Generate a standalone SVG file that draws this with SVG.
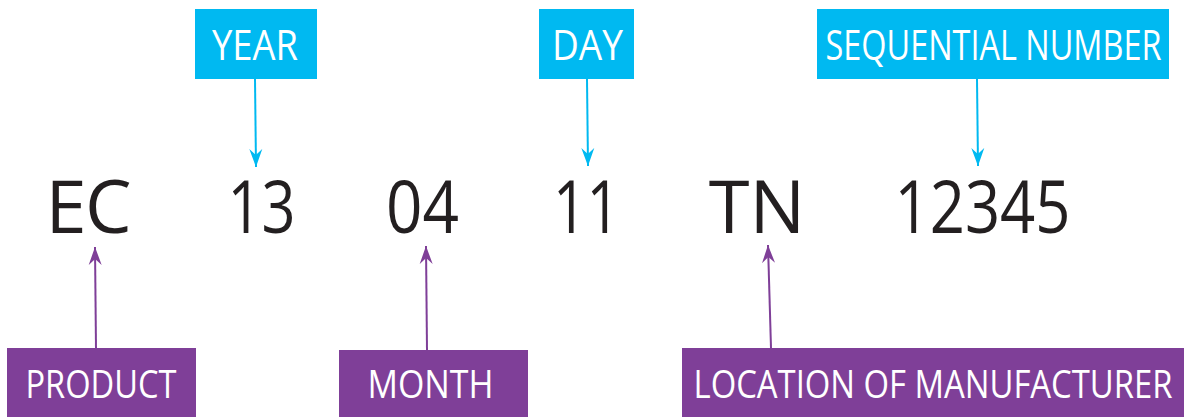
<svg xmlns="http://www.w3.org/2000/svg" width="1184" height="417" viewBox="0 0 1184 417">
<style>
.bbox{fill:#00B9F1}
.pbox{fill:#7F3F98}
.lbl{font-family:"Open Sans","Liberation Sans",sans-serif;fill:#fff;text-anchor:middle}
.big{font-family:"Open Sans","Liberation Sans",sans-serif;font-size:74px;fill:#231F20;text-anchor:middle}
.bl{stroke:#00B9F1;stroke-width:2;fill:none}
.pl{stroke:#7F3F98;stroke-width:2;fill:none}
</style>
<defs>
<marker id="ab" markerUnits="userSpaceOnUse" markerWidth="20" markerHeight="16" viewBox="-18 -8 20 16" refX="0" refY="0" orient="auto">
<path d="M0,0 L-18,-6.5 L-12,0 L-18,6.5 Z" fill="#00B9F1"/>
</marker>
<marker id="ap" markerUnits="userSpaceOnUse" markerWidth="20" markerHeight="16" viewBox="-18 -8 20 16" refX="0" refY="0" orient="auto">
<path d="M0,0 L-18,-6.5 L-12,0 L-18,6.5 Z" fill="#7F3F98"/>
</marker>
</defs>
<g id="code">
<text class="big" x="88.5" y="233" style="word-spacing:-14px" textLength="86" lengthAdjust="spacing">E C</text>
<text class="big" x="261.5" y="233" textLength="68" lengthAdjust="spacingAndGlyphs">13</text>
<text class="big" x="422.5" y="233" textLength="73" lengthAdjust="spacingAndGlyphs">04</text>
<text class="big" x="586.5" y="233" textLength="67" lengthAdjust="spacingAndGlyphs">11</text>
<text class="big" x="757" y="233">TN</text>
<text class="big" x="982.5" y="233" textLength="176" lengthAdjust="spacingAndGlyphs">12345</text>
</g>
<g id="year">
<rect class="bbox" x="195" y="9" width="122" height="70"/>
<text class="lbl" x="255" y="60" font-size="42" textLength="86" lengthAdjust="spacingAndGlyphs">YEAR</text>
</g>
<g id="day">
<rect class="bbox" x="539" y="9" width="95" height="70"/>
<text class="lbl" x="587.5" y="60" font-size="42" textLength="71" lengthAdjust="spacingAndGlyphs">DAY</text>
</g>
<g id="sequential">
<rect class="bbox" x="817" y="9" width="352" height="70"/>
<text class="lbl" x="993.5" y="60" font-size="42" textLength="336" lengthAdjust="spacingAndGlyphs">SEQUENTIAL NUMBER</text>
</g>
<g id="product">
<rect class="pbox" x="7" y="348" width="189" height="69"/>
<text class="lbl" x="101" y="398" font-size="39" textLength="151" lengthAdjust="spacingAndGlyphs">PRODUCT</text>
</g>
<g id="month">
<rect class="pbox" x="339" y="350" width="189" height="67"/>
<text class="lbl" x="430.5" y="398" font-size="39" textLength="126" lengthAdjust="spacingAndGlyphs">MONTH</text>
</g>
<g id="location">
<rect class="pbox" x="682" y="348" width="502" height="69"/>
<text class="lbl" x="933" y="398" font-size="39" textLength="479" lengthAdjust="spacingAndGlyphs">LOCATION OF MANUFACTURER</text>
</g>
<g id="connectors">
<line class="bl" x1="255" y1="79" x2="256" y2="167" marker-end="url(#ab)"/>
<line class="bl" x1="587" y1="79" x2="588" y2="166" marker-end="url(#ab)"/>
<line class="bl" x1="977" y1="79" x2="978" y2="166" marker-end="url(#ab)"/>
<line class="pl" x1="96" y1="348" x2="95" y2="247" marker-end="url(#ap)"/>
<line class="pl" x1="427" y1="350" x2="426" y2="246" marker-end="url(#ap)"/>
<line class="pl" x1="771" y1="348" x2="768" y2="245" marker-end="url(#ap)"/>
</g>
</svg>
